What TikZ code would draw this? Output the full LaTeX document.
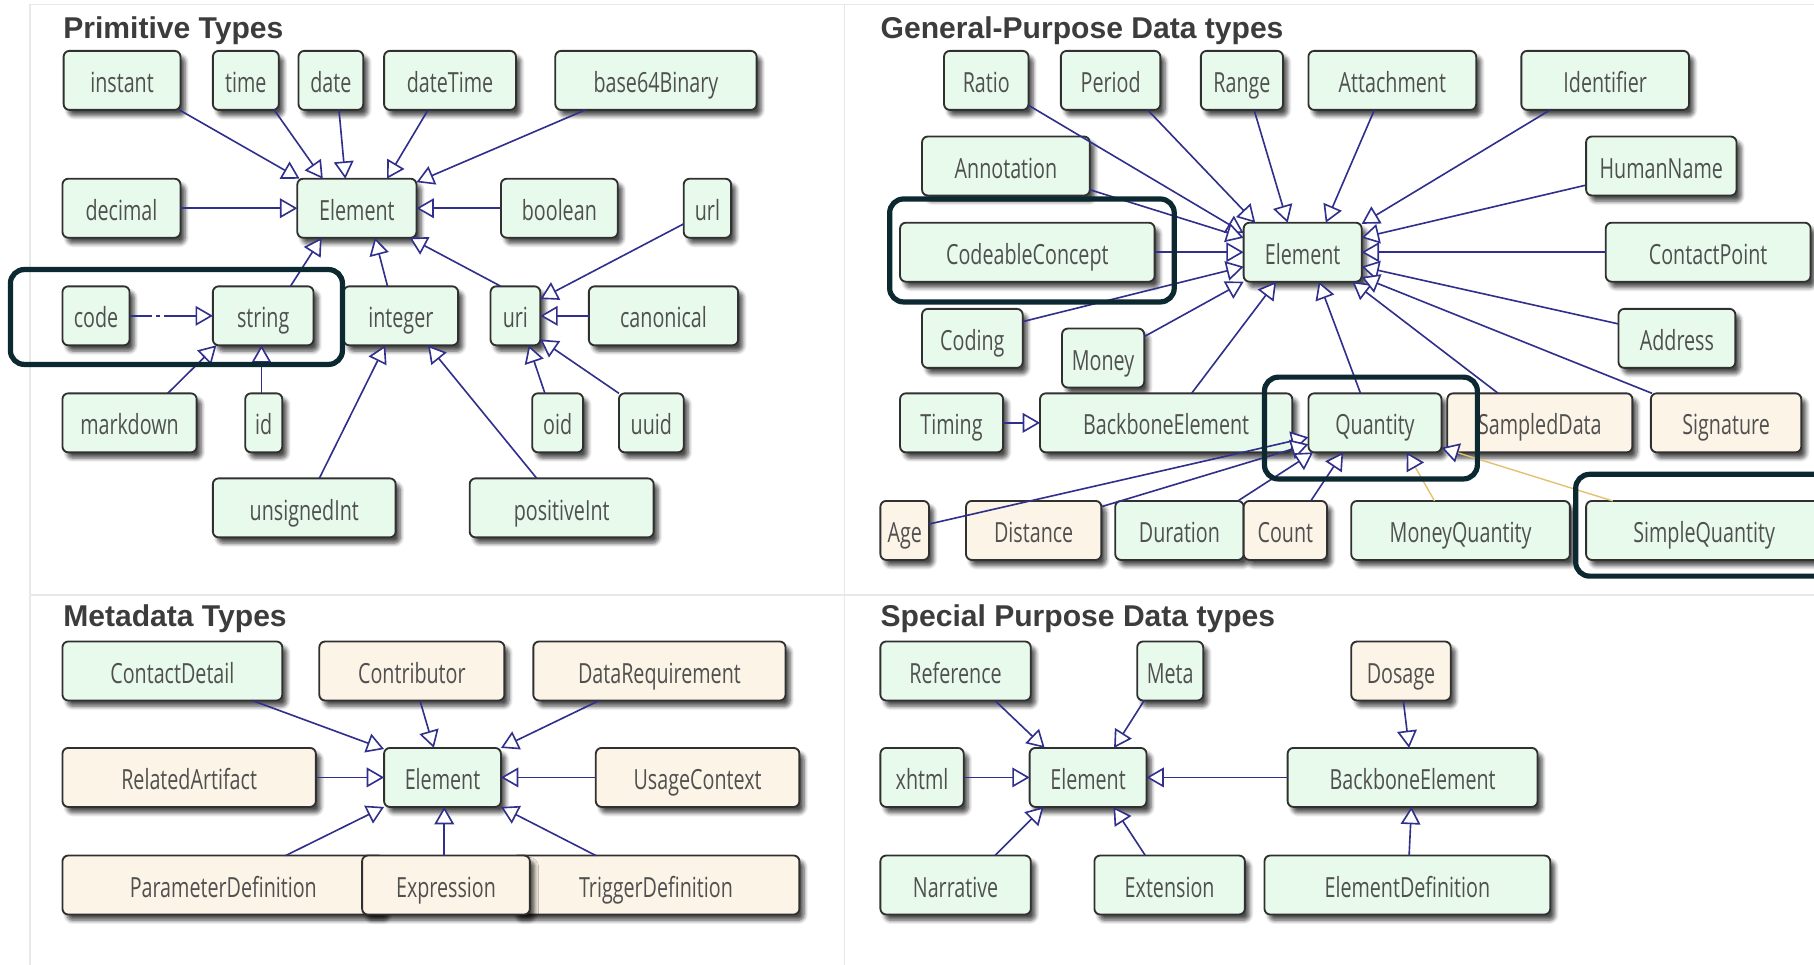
\documentclass[tikz,border=0pt]{standalone}
\usepackage{fontspec}
\newfontfamily\boxfont[FakeStretch=0.71]{Open Sans}
\newfontfamily\headfont{Liberation Sans}
\usetikzlibrary{arrows.meta,calc,shadows.blur}

\definecolor{boxgreen}{RGB}{232,250,236}
\definecolor{boxtan}{RGB}{252,244,231}
\definecolor{boxline}{RGB}{48,48,48}
\definecolor{boxtext}{RGB}{80,80,80}
\definecolor{gencol}{RGB}{48,48,140}
\definecolor{constraintcol}{RGB}{228,192,112}
\definecolor{hilitecol}{RGB}{12,40,48}
\definecolor{panelline}{RGB}{232,232,232}
\definecolor{headtext}{RGB}{60,60,60}

\begin{document}
\begin{tikzpicture}[x=1pt,y=-1pt,
  box/.style={draw=boxline, line width=1.6pt, rounded corners=5pt,
    minimum height=51pt, inner sep=0pt, outer sep=0pt,
    text height=22pt, text depth=1pt, text=boxtext,
    font=\boxfont\fontsize{24}{28}\selectfont,
    blur shadow={shadow xshift=4pt, shadow yshift=-5pt,
      shadow blur radius=3.5pt, shadow blur steps=6, shadow opacity=70}},
  gbox/.style={box, fill=boxgreen},
  tbox/.style={box, fill=boxtan},
  gen/.style={draw=gencol, line width=1.4pt,
    -{Triangle[length=15pt, width=17pt, fill=white, line width=1.4pt]}},
  cgen/.style={draw=constraintcol, line width=1.2pt,
    -{Triangle[length=15pt, width=17pt, color=gencol, fill=white, line width=1.4pt]}},
  head/.style={anchor=base west, inner sep=0pt, text=headtext,
    font=\headfont\bfseries\fontsize{26}{30}\selectfont},
  panel/.style={draw=panelline, line width=1.5pt},
  hilite/.style={draw=hilitecol, line width=4.5pt, rounded corners=12pt}
]
\useasboundingbox (0,0) rectangle (1568,834);
\clip (0,0) rectangle (1568,834);

% panel frames
\draw[panel] (26,834) -- (26,4) -- (1568,4);
\draw[panel] (730,4) -- (730,834);
\draw[panel] (26,514) -- (1568,514);

% headings
\node[head] (tprim) at (54.5,33) {Primitive Types};
\node[head] (tgen) at (761,33) {General-Purpose Data types};
\node[head] (tmeta) at (54.5,541.5) {Metadata Types};
\node[head] (tspec) at (761,541.5) {Special Purpose Data types};

% ---------- primitive types ----------
\node[gbox, minimum width=101pt] (pinstant) at (105.5,69.5) {instant};
\node[gbox, minimum width=57pt] (ptime) at (212.5,69.5) {time};
\node[gbox, minimum width=56pt] (pdate) at (286,69.5) {date};
\node[gbox, minimum width=114pt] (pdatetime) at (389,69.5) {dateTime};
\node[gbox, minimum width=174pt] (pbase) at (567,69.5) {base64Binary};
\node[gbox, minimum width=102pt] (pdecimal) at (105,180) {decimal};
\node[gbox, minimum width=103pt] (pelem) at (308.5,180) {Element};
\node[gbox, minimum width=101pt] (pboolean) at (483.5,180) {boolean};
\node[gbox, minimum width=41pt] (purl) at (611.5,180) {url};
\node[gbox, minimum width=58pt] (pcode) at (83,273) {code};
\node[gbox, minimum width=87pt] (pstring) at (227.5,273) {string};
\node[gbox, minimum width=99pt] (pinteger) at (346.5,273) {integer};
\node[gbox, minimum width=43pt] (puri) at (445.5,273) {uri};
\node[gbox, minimum width=129pt] (pcanon) at (573.5,273) {canonical};
\node[gbox, minimum width=116pt] (pmarkdown) at (112,365.5) {markdown};
\node[gbox, minimum width=32pt] (pid) at (228,365.5) {id};
\node[gbox, minimum width=44pt] (poid) at (482,365.5) {oid};
\node[gbox, minimum width=56pt] (puuid) at (563,365.5) {uuid};
\node[gbox, minimum width=158pt] (punsigned) at (263,439) {unsignedInt};
\node[gbox, minimum width=159pt] (ppositive) at (485.5,439) {positiveInt};

\draw[gen] ($(pinstant.south east)+(-1,0)$) -- ($(pelem.north west)+(2,0)$);
\draw[gen] ($(ptime.south east)+(-4,0)$) -- ($(pelem.north west)+(22,0)$);
\draw[gen] ($(pdate.south)+(7,0)$) -- ($(pelem.north)+(-10,0)$);
\draw[gen] ($(pdatetime.south)+(-19,0)$) -- ($(pelem.north)+(26,0)$);
\draw[gen] ($(pbase.south west)+(26,0)$) -- ($(pelem.north east)+(0,3)$);
\draw[gen] (pdecimal.east) -- (pelem.west);
\draw[gen] (pboolean.west) -- (pelem.east);
\draw[gen] ($(pstring.north)+(23.5,0)$) -- ($(pelem.south west)+(21,0)$);
\draw[gen] ($(pinteger.north)+(-11.5,0)$) -- ($(pelem.south)+(15.5,0)$);
\draw[gen] ($(puri.north west)+(9,0)$) -- ($(pelem.south east)+(-6,0)$);
\draw[gen] ($(purl.west)+(0,13.5)$) -- ($(puri.north east)+(0,11)$);
\draw[gen] (pcanon.west) -- (puri.east);
\draw[gen] ($(poid.north)+(-11,0)$) -- ($(puri.south)+(11.5,0)$);
\draw[gen] (puuid.north west) -- ($(puri.south east)+(0,-5)$);
\draw[gen] ($(pmarkdown.north)+(33,0)$) -- ($(pstring.south west)+(3,0)$);
\draw[gen] ($(pid.north)+(-2,0)$) -- ($(pstring.south)+(-1.5,0)$);
\draw[gen, dash pattern=on 19pt off 4pt on 3pt off 4pt on 80pt] (pcode.east) -- (pstring.west);
\draw[gen] ($(punsigned.north)+(13,0)$) -- ($(pinteger.south)+(-13.5,0)$);
\draw[gen] ($(ppositive.north)+(-21.5,0)$) -- ($(pinteger.south)+(23.5,0)$);

% ---------- general-purpose data types ----------
\node[gbox, minimum width=73pt] (gratio) at (852.5,69.5) {Ratio};
\node[gbox, minimum width=86pt] (gperiod) at (960,69.5) {Period};
\node[gbox, minimum width=71pt] (grange) at (1073.5,69.5) {Range};
\node[gbox, minimum width=145pt] (gattach) at (1203.5,69.5) {Attachment};
\node[gbox, minimum width=145pt] (gident) at (1387.5,69.5) {Identifier};
\node[gbox, minimum width=145pt] (gannot) at (869.5,143.5) {Annotation};
\node[gbox, minimum width=130pt] (ghuman) at (1436,143.5) {HumanName};
\node[gbox, minimum width=220pt] (gcodeable) at (888,218) {CodeableConcept};
\node[gbox, minimum width=102pt] (gelem) at (1126,218) {Element};
\node[gbox, minimum width=177pt] (gcontact) at (1476.5,218) {ContactPoint};
\node[gbox, minimum width=87pt] (gcoding) at (840.5,292.5) {Coding};
\node[gbox, minimum width=101pt] (gaddress) at (1449.5,292.5) {Address};
\node[gbox, minimum width=71pt] (gmoney) at (953.5,309.5) {Money};
\node[gbox, minimum width=89pt] (gtiming) at (822.5,365.5) {Timing};
\node[gbox, minimum width=218pt] (gbackbone) at (1008,365.5) {BackboneElement};
\node[gbox, minimum width=115pt] (gquantity) at (1188.5,365.5) {Quantity};
\node[tbox, minimum width=160pt] (gsampled) at (1331,365.5) {SampledData};
\node[tbox, minimum width=130pt] (gsignature) at (1492,365.5) {Signature};
\node[tbox, minimum width=42pt] (gage) at (782,458.5) {Age};
\node[tbox, minimum width=117pt] (gdistance) at (893.5,458.5) {Distance};
\node[gbox, minimum width=111pt] (gduration) at (1019.5,458.5) {Duration};
\node[tbox, minimum width=72pt] (gcount) at (1111,458.5) {Count};
\node[gbox, minimum width=189pt] (gmoneyq) at (1262.5,458.5) {MoneyQuantity};
\node[gbox, minimum width=204pt] (gsimple) at (1473,458.5) {SimpleQuantity};

\draw[gen] ($(gratio.south east)+(0,-4)$) -- ($(gelem.north west)+(0,9)$);
\draw[gen] ($(gperiod.south east)+(-11,0)$) -- ($(gelem.north west)+(10,0)$);
\draw[gen] ($(grange.south)+(10.5,0)$) -- ($(gelem.north)+(-13,0)$);
\draw[gen] ($(gattach.south)+(-15.5,0)$) -- ($(gelem.north)+(20,0)$);
\draw[gen] ($(gident.south west)+(25,0)$) -- ($(gelem.north east)+(0,1)$);
\draw[gen] ($(gannot.south east)+(0,-5)$) -- ($(gelem.north west)+(0,13)$);
\draw[gen] ($(ghuman.south west)+(0,-9)$) -- ($(gelem.north east)+(0,13)$);
\draw[gen] (gcodeable.east) -- (gelem.west);
\draw[gen] (gcontact.west) -- (gelem.east);
\draw[gen] ($(gcoding.east)+(0,-14.5)$) -- ($(gelem.south west)+(0,-13)$);
\draw[gen] ($(gaddress.west)+(0,-12.5)$) -- ($(gelem.south east)+(0,-13)$);
\draw[gen] ($(gmoney.east)+(0,-18.5)$) -- (gelem.south west);
\draw[gen] ($(gbackbone.north)+(22,0)$) -- ($(gelem.south)+(-23,0)$);
\draw[gen] ($(gquantity.north)+(-12.5,0)$) -- ($(gelem.south)+(14,0)$);
\draw[gen] ($(gsampled.north west)+(44,0)$) -- ($(gelem.south east)+(-8,0)$);
\draw[gen] ($(gsignature.north west)+(1,0)$) -- ($(gelem.south east)+(0,-4)$);
\draw[gen] (gtiming.east) -- (gbackbone.west);

\draw[gen] ($(gage.east)+(0,-5.5)$) -- ($(gquantity.south west)+(0,-13)$);
\draw[gen] ($(gdistance.north east)+(0,5)$) -- ($(gquantity.south west)+(0,-7)$);
\draw[gen] ($(gduration.north east)+(-5,0)$) -- ($(gquantity.south west)+(4,0)$);
\draw[gen] ($(gcount.north east)+(-14,0)$) -- ($(gquantity.south west)+(30,0)$);
\draw[cgen] ($(gmoneyq.north)+(-22.5,0)$) -- ($(gquantity.south)+(27.5,0)$);
\draw[cgen] ($(gsimple.north west)+(23,0)$) -- ($(gquantity.south east)+(0,-4)$);

% ---------- metadata types ----------
\node[gbox, minimum width=190pt] (mcontact) at (149,580) {ContactDetail};
\node[tbox, minimum width=160pt] (mcontrib) at (356,580) {Contributor};
\node[tbox, minimum width=218pt] (mdatareq) at (570,580) {DataRequirement};
\node[tbox, minimum width=219pt] (mrelated) at (163.5,672) {RelatedArtifact};
\node[gbox, minimum width=101pt] (melem) at (382.5,672) {Element};
\node[tbox, minimum width=176pt] (musage) at (603,672) {UsageContext};
\node[tbox, minimum width=278pt] (mparam) at (193,765) {ParameterDefinition};
\node[tbox, minimum width=248pt] (mtrigger) at (567,765) {TriggerDefinition};
\node[tbox, minimum width=145pt] (mexpr) at (385.5,765) {Expression};

\draw[gen] ($(mcontact.south)+(69,0)$) -- ($(melem.north west)+(0,1)$);
\draw[gen] ($(mcontrib.south)+(7,0)$) -- ($(melem.north)+(-7.5,0)$);
\draw[gen] ($(mdatareq.south west)+(57,0)$) -- (melem.north east);
\draw[gen] (mrelated.east) -- (melem.west);
\draw[gen] (musage.west) -- (melem.east);
\draw[gen] ($(mparam.north)+(54,0)$) -- (melem.south west);
\draw[gen] ($(mexpr.north)+(-1.5,0)$) -- ($(melem.south)+(1.5,0)$);
\draw[gen] ($(mtrigger.north)+(-52,0)$) -- (melem.south east);

% ---------- special purpose data types ----------
\node[gbox, minimum width=130pt] (sref) at (826,580) {Reference};
\node[gbox, minimum width=57pt] (smeta) at (1011.5,580) {Meta};
\node[tbox, minimum width=86pt] (sdosage) at (1211,580) {Dosage};
\node[gbox, minimum width=72pt] (sxhtml) at (797,672) {xhtml};
\node[gbox, minimum width=101pt] (selem) at (940.5,672) {Element};
\node[gbox, minimum width=216pt] (sbackbone) at (1221,672) {BackboneElement};
\node[gbox, minimum width=130pt] (snarr) at (826,765) {Narrative};
\node[gbox, minimum width=130pt] (sext) at (1011,765) {Extension};
\node[gbox, minimum width=247pt] (selemdef) at (1216.5,765) {ElementDefinition};

\draw[gen] ($(sref.south east)+(-31,0)$) -- ($(selem.north west)+(13,0)$);
\draw[gen] ($(smeta.south)+(-22.5,0)$) -- ($(selem.north)+(22.5,0)$);
\draw[gen] (sxhtml.east) -- (selem.west);
\draw[gen] (sbackbone.west) -- (selem.east);
\draw[gen] ($(sdosage.south)+(2,0)$) -- ($(sbackbone.north)+(-3,0)$);
\draw[gen] ($(selemdef.north)+(1.5,0)$) -- ($(sbackbone.south)+(-1,0)$);
\draw[gen] ($(snarr.north)+(34,0)$) -- ($(selem.south west)+(12,0)$);
\draw[gen] ($(sext.north)+(-21,0)$) -- ($(selem.south)+(22,0)$);

% ---------- emphasis frames ----------
\draw[hilite] (9,233) rectangle (296,315);
\draw[hilite] (769,172) rectangle (1015,261);
\draw[hilite] (1093,326) rectangle (1277,414);
\draw[hilite] (1362,410) rectangle (1600,498);
\end{tikzpicture}
\end{document}
